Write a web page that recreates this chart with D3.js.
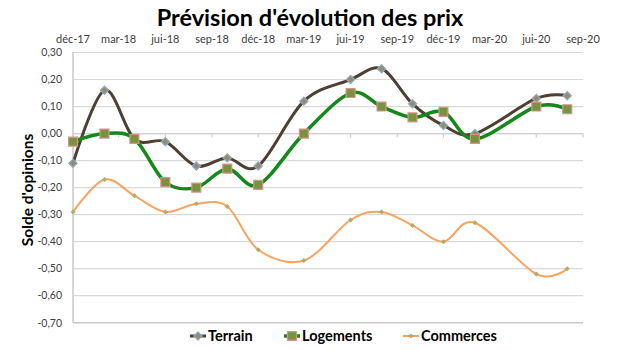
<!DOCTYPE html>
<html>
<head>
<meta charset="utf-8">
<script src="https://cdn.jsdelivr.net/npm/d3@7"></script>
<style>
  html, body { margin: 0; padding: 0; background: #fff; }
  svg { display: block; font-family: Lato, "Open Sans", sans-serif; }
</style>
</head>
<body>
<svg id="chart" width="630" height="350"></svg>
<script>
// ---- data ----
const dates = ["2017-12-01","2018-02-01","2018-04-01","2018-06-01","2018-08-01","2018-10-01","2018-12-01",
               "2019-03-01","2019-06-01","2019-08-01","2019-10-01","2019-12-01","2020-02-01","2020-06-01","2020-08-01"];
const terrain    = [-0.11, 0.16, -0.02, -0.03, -0.12, -0.09, -0.12, 0.12, 0.20, 0.24, 0.11, 0.03, 0.00, 0.13, 0.14];
const logements  = [-0.03, 0.00, -0.02, -0.18, -0.20, -0.13, -0.19, 0.00, 0.15, 0.10, 0.06, 0.08, -0.02, 0.10, 0.09];
const commerces  = [-0.29, -0.17, -0.23, -0.29, -0.26, -0.27, -0.43, -0.47, -0.32, -0.29, -0.34, -0.40, -0.33, -0.52, -0.50];
const tickDates  = ["2017-12-01","2018-03-01","2018-06-01","2018-09-01","2018-12-01","2019-03-01",
                    "2019-06-01","2019-09-01","2019-12-01","2020-03-01","2020-06-01","2020-09-01"];
const tickLabels = ["déc-17","mar-18","jui-18","sep-18","déc-18","mar-19","jui-19","sep-19","déc-19","mar-20","jui-20","sep-20"];
const yTicks = [0.30, 0.20, 0.10, 0.00, -0.10, -0.20, -0.30, -0.40, -0.50, -0.60, -0.70];
const seriesNames = ["Terrain", "Logements", "Commerces"];

// ---- layout ----
const svg = d3.select("#chart");
const pLeft = 73, pRight = 583, pTop = 52.5, pBottom = 322.7;
const parse = d3.utcParse("%Y-%m-%d");
const x = d3.scaleUtc().domain([parse(tickDates[0]), parse(tickDates[tickDates.length - 1])]).range([pLeft, pRight]);
const y = d3.scaleLinear().domain([-0.70, 0.30]).range([pBottom, pTop]);
const fmt = v => (v < 0 ? "-" : "") + d3.format(".2f")(Math.abs(v)).replace(".", ",");

// title
svg.append("text").attr("x", 310).attr("y", 26).attr("text-anchor", "middle")
  .attr("font-size", 23.5).attr("font-weight", "bold").attr("fill", "#000")
  .text("Prévision d'évolution des prix");

// gridlines
svg.append("g").selectAll("line").data(yTicks.slice(0, -1)).join("line")
  .attr("x1", pLeft).attr("x2", pRight)
  .attr("y1", d => y(d)).attr("y2", d => y(d))
  .attr("stroke", "#d9d9d9").attr("stroke-width", 1.2);

// bottom axis line & y axis line
svg.append("line").attr("x1", pLeft).attr("x2", pRight).attr("y1", y(-0.70)).attr("y2", y(-0.70))
  .attr("stroke", "#c8c8c8").attr("stroke-width", 1.5);
svg.append("line").attr("x1", pLeft).attr("x2", pLeft).attr("y1", pTop).attr("y2", pBottom)
  .attr("stroke", "#c8c8c8").attr("stroke-width", 1.5);

// category axis at y = 0 with ticks
svg.append("line").attr("x1", pLeft).attr("x2", pRight).attr("y1", y(0)).attr("y2", y(0))
  .attr("stroke", "#cfcfcf").attr("stroke-width", 1.2);
svg.append("g").selectAll("line").data(tickDates).join("line")
  .attr("x1", d => x(parse(d))).attr("x2", d => x(parse(d)))
  .attr("y1", y(0)).attr("y2", y(0) + 4)
  .attr("stroke", "#cfcfcf").attr("stroke-width", 1.2);

// top labels
svg.append("g").selectAll("text").data(tickDates).join("text")
  .attr("x", d => x(parse(d))).attr("y", 43).attr("text-anchor", "middle")
  .attr("font-size", 11).attr("fill", "#404040")
  .text((d, i) => tickLabels[i]);

// y labels
svg.append("g").selectAll("text").data(yTicks).join("text")
  .attr("x", 62).attr("y", d => y(d) + 3.8).attr("text-anchor", "end")
  .attr("font-size", 10.5).attr("fill", "#404040")
  .text(d => fmt(d));

// y title
svg.append("text").attr("transform", "translate(33,190) rotate(-90)")
  .attr("text-anchor", "middle").attr("font-size", 15.5).attr("font-weight", "bold").attr("fill", "#000")
  .text("Solde d'opinions");

// series
const styles = [
  { vals: terrain,   color: "#4b4032", width: 3,   sym: d3.symbolSquare, rot: 45, size: 34, fill: "#9c8b5e", stroke: "#86acd8", sw: 1.2 },
  { vals: logements, color: "#13891b", width: 3.5, sym: d3.symbolSquare, rot: 0,  size: 80, fill: "#77933c", stroke: "#d8918d", sw: 1.2 },
  { vals: commerces, color: "#f9a262", width: 2,   sym: d3.symbolSquare, rot: 45, size: 10, fill: "#aeae62", stroke: "#aeae62", sw: 0.5 }
];
const line = d3.line().x((d, i) => x(parse(dates[i]))).y(d => y(d)).curve(d3.curveCardinal.tension(0));

styles.forEach(s => {
  svg.append("path").datum(s.vals).attr("d", line)
    .attr("fill", "none").attr("stroke", s.color).attr("stroke-width", s.width)
    .attr("stroke-linejoin", "round").attr("stroke-linecap", "round");
  svg.append("g").selectAll("path").data(s.vals).join("path")
    .attr("transform", (d, i) => `translate(${x(parse(dates[i]))},${y(d)}) rotate(${s.rot})`)
    .attr("d", d3.symbol().type(s.sym).size(s.size))
    .attr("fill", s.fill).attr("stroke", s.stroke).attr("stroke-width", s.sw);
});

// legend
const legendX = [190, 284, 403];
const lg = svg.append("g");
seriesNames.forEach((name, i) => {
  const s = styles[i], lx = legendX[i], ly = 336;
  lg.append("line").attr("x1", lx).attr("x2", lx + 16).attr("y1", ly).attr("y2", ly)
    .attr("stroke", s.color).attr("stroke-width", s.width);
  lg.append("path").attr("transform", `translate(${lx + 8},${ly}) rotate(${s.rot})`)
    .attr("d", d3.symbol().type(s.sym).size(s.size))
    .attr("fill", s.fill).attr("stroke", s.stroke).attr("stroke-width", s.sw);
  lg.append("text").attr("x", lx + 18).attr("y", ly + 5)
    .attr("font-size", 14.5).attr("font-weight", "bold").attr("fill", "#000").text(name);
});
</script>
</body>
</html>
